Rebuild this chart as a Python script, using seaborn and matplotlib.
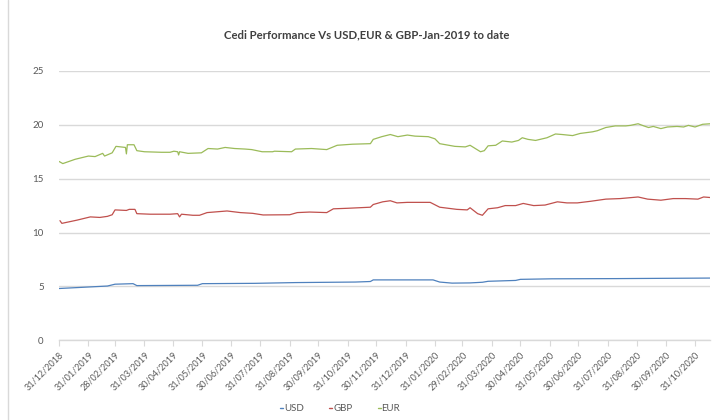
import pandas as pd
import numpy as np
import matplotlib.pyplot as plt
import matplotlib.dates as mdates
import seaborn as sns

# Values
usd_dates = ["2018-12-31", "2019-02-20", "2019-02-28", "2019-03-19", "2019-03-23",
             "2019-05-26", "2019-05-31", "2019-07-25", "2019-09-06", "2019-11-08",
             "2019-11-24", "2019-11-27", "2020-01-29", "2020-02-05", "2020-02-18",
             "2020-03-08", "2020-03-21", "2020-03-27", "2020-04-25", "2020-04-30",
             "2020-06-02", "2020-08-10", "2020-11-16"]
usd_rate = [4.80, 5.03, 5.20, 5.25, 5.07,
            5.10, 5.25, 5.28, 5.35, 5.40,
            5.45, 5.60, 5.60, 5.40, 5.30,
            5.32, 5.38, 5.47, 5.55, 5.65,
            5.70, 5.72, 5.77]

gbp_dates = ["2019-01-01", "2019-01-03", "2019-01-19", "2019-02-02", "2019-02-12",
             "2019-02-20", "2019-02-25", "2019-02-28", "2019-03-12", "2019-03-15",
             "2019-03-21", "2019-03-23", "2019-04-06", "2019-04-27", "2019-05-05",
             "2019-05-07", "2019-05-09", "2019-05-21", "2019-05-28", "2019-06-05",
             "2019-06-26", "2019-07-10", "2019-07-23", "2019-08-03", "2019-08-31",
             "2019-09-08", "2019-09-21", "2019-10-09", "2019-10-16", "2019-10-31",
             "2019-11-24", "2019-11-27", "2019-12-07", "2019-12-15", "2019-12-22",
             "2020-01-02", "2020-01-26", "2020-02-05", "2020-02-23", "2020-03-05",
             "2020-03-08", "2020-03-16", "2020-03-21", "2020-03-27", "2020-04-06",
             "2020-04-14", "2020-04-25", "2020-05-03", "2020-05-14", "2020-05-26",
             "2020-06-08", "2020-06-18", "2020-06-29", "2020-07-13", "2020-07-29",
             "2020-08-13", "2020-09-01", "2020-09-11", "2020-09-25", "2020-10-08",
             "2020-10-21", "2020-11-03", "2020-11-09", "2020-11-16"]
gbp_rate = [11.10, 10.85, 11.15, 11.45, 11.40,
            11.50, 11.65, 12.10, 12.05, 12.15,
            12.15, 11.75, 11.70, 11.70, 11.75,
            11.45, 11.70, 11.60, 11.60, 11.85,
            12.00, 11.85, 11.78, 11.63, 11.65,
            11.85, 11.90, 11.85, 12.20, 12.25,
            12.35, 12.60, 12.85, 12.95, 12.75,
            12.80, 12.80, 12.35, 12.15, 12.10,
            12.30, 11.75, 11.60, 12.20, 12.30,
            12.50, 12.50, 12.70, 12.50, 12.55,
            12.85, 12.75, 12.75, 12.90, 13.10,
            13.15, 13.30, 13.10, 13.00, 13.15,
            13.15, 13.10, 13.30, 13.25]

eur_dates = ["2018-12-31", "2019-01-04", "2019-01-17", "2019-01-31", "2019-02-07",
             "2019-02-15", "2019-02-17", "2019-02-25", "2019-03-01", "2019-03-11",
             "2019-03-12", "2019-03-13", "2019-03-20", "2019-03-23", "2019-03-31",
             "2019-04-18", "2019-04-27", "2019-05-01", "2019-05-05", "2019-05-06",
             "2019-05-07", "2019-05-16", "2019-05-30", "2019-06-06", "2019-06-16",
             "2019-06-24", "2019-07-04", "2019-07-15", "2019-07-22", "2019-08-02",
             "2019-08-13", "2019-08-15", "2019-09-02", "2019-09-06", "2019-09-23",
             "2019-10-09", "2019-10-20", "2019-11-05", "2019-11-24", "2019-11-27",
             "2019-12-06", "2019-12-15", "2019-12-23", "2020-01-02", "2020-01-10",
             "2020-01-24", "2020-01-31", "2020-02-05", "2020-02-21", "2020-03-03",
             "2020-03-08", "2020-03-19", "2020-03-23", "2020-03-27", "2020-04-04",
             "2020-04-11", "2020-04-21", "2020-04-28", "2020-05-02", "2020-05-08",
             "2020-05-16", "2020-05-28", "2020-06-06", "2020-06-13", "2020-06-24",
             "2020-07-02", "2020-07-15", "2020-07-20", "2020-07-29", "2020-08-08",
             "2020-08-19", "2020-08-24", "2020-09-01", "2020-09-07", "2020-09-12",
             "2020-09-17", "2020-09-25", "2020-10-02", "2020-10-12", "2020-10-19",
             "2020-10-24", "2020-10-31", "2020-11-08", "2020-11-16"]
eur_rate = [16.60, 16.40, 16.80, 17.10, 17.05,
            17.35, 17.10, 17.40, 18.00, 17.90,
            17.30, 18.15, 18.15, 17.60, 17.50,
            17.45, 17.45, 17.55, 17.50, 17.20,
            17.50, 17.35, 17.40, 17.80, 17.75,
            17.90, 17.80, 17.75, 17.70, 17.50,
            17.50, 17.55, 17.50, 17.75, 17.80,
            17.70, 18.10, 18.20, 18.25, 18.65,
            18.90, 19.10, 18.90, 19.05, 18.95,
            18.90, 18.70, 18.25, 18.00, 17.95,
            18.10, 17.50, 17.60, 18.05, 18.10,
            18.50, 18.40, 18.55, 18.80, 18.65,
            18.55, 18.80, 19.15, 19.10, 19.00,
            19.20, 19.35, 19.45, 19.75, 19.90,
            19.90, 19.95, 20.10, 19.90, 19.75,
            19.85, 19.65, 19.80, 19.85, 19.80,
            19.95, 19.80, 20.05, 20.10]

tick_dates = ["2018-12-31", "2019-01-31", "2019-02-28", "2019-03-31", "2019-04-30",
              "2019-05-31", "2019-06-30", "2019-07-31", "2019-08-31", "2019-09-30",
              "2019-10-31", "2019-11-30", "2019-12-31", "2020-01-31", "2020-02-29",
              "2020-03-31", "2020-04-30", "2020-05-31", "2020-06-30", "2020-07-31",
              "2020-08-31", "2020-09-30", "2020-10-31"]

# Build a long table for seaborn
frames = []
for name, d, v in [("USD", usd_dates, usd_rate), ("GBP", gbp_dates, gbp_rate), ("EUR", eur_dates, eur_rate)]:
    frames.append(pd.DataFrame({"Date": pd.to_datetime(d), "Rate": v, "Currency": name}))
data = pd.concat(frames, ignore_index=True)

palette = {"USD": "#4f81bd", "GBP": "#c0504d", "EUR": "#9bbb59"}
grey = "#595959"

sns.set_style("white")
plt.rcParams['font.family'] = ['Lato', 'DejaVu Sans']

fig = plt.figure(figsize=(7.24, 4.2), dpi=100)
ax = fig.add_axes([0.0815, 0.19, 0.8995, 0.641])

sns.lineplot(data=data, x="Date", y="Rate", hue="Currency", palette=palette,
             linewidth=0.9, ax=ax, legend=False)

ax.set_ylim(0, 25)
ax.set_yticks([0, 5, 10, 15, 20, 25])
ax.set_xlim(pd.Timestamp("2018-12-31"), pd.Timestamp("2020-11-16"))
ticks = pd.to_datetime(tick_dates)
ax.set_xticks(ticks)
ax.set_xticklabels([t.strftime("%d/%m/%Y") for t in ticks], rotation=45,
                   ha="right", rotation_mode="anchor", fontsize=6.5, color=grey)
ax.tick_params(axis="y", labelsize=7, colors=grey, length=0, pad=11)
ax.tick_params(axis="x", length=4, width=0.8, color="#d9d9d9", pad=3, bottom=True)
ax.grid(axis="y", color="#d9d9d9", linewidth=1.0)
ax.set_axisbelow(True)
for side in ["top", "right", "left"]:
    ax.spines[side].set_visible(False)
ax.spines["bottom"].set_color("#d9d9d9")
ax.spines["bottom"].set_linewidth(1.0)
ax.set_xlabel("")
ax.set_ylabel("")

fig.text(0.507, 0.918, "Cedi Performance Vs USD,EUR & GBP-Jan-2019 to date",
         ha="center", va="center", fontsize=8.2, fontweight="bold", color="#404040")

# legend at the bottom
handles = [plt.Line2D([], [], color=palette[c], linewidth=1.0) for c in ["USD", "GBP", "EUR"]]
fig.legend(handles, ["USD", "GBP", "EUR"], loc="center", bbox_to_anchor=(0.47, 0.027),
           ncol=3, frameon=False, fontsize=7, handlelength=0.3, handletextpad=0.1,
           columnspacing=2.6, labelcolor=grey)

# chart area border on the left
fig.add_artist(plt.Line2D([8 / 724, 8 / 724], [0, 1], transform=fig.transFigure,
                          color="#d9d9d9", linewidth=1.0))

fig.savefig("out.png", dpi=100)
